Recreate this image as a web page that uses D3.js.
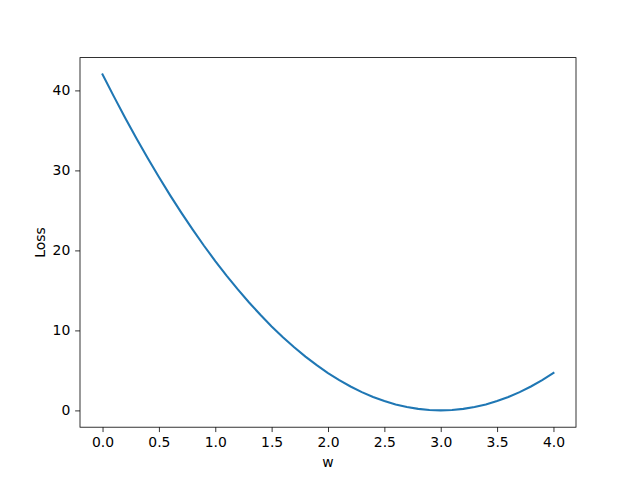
<!DOCTYPE html>
<html>
<head>
<meta charset="utf-8">
<script src="https://cdn.jsdelivr.net/npm/d3@7"></script>
<style>
  body { margin: 0; background: #fff; }
  svg text { font-family: "DejaVu Sans", sans-serif; }
</style>
</head>
<body>
<svg id="chart" width="640" height="480"></svg>
<script>
// data
var wValues = [0.0, 0.1, 0.2, 0.3, 0.4, 0.5, 0.6, 0.7, 0.8, 0.9,
               1.0, 1.1, 1.2, 1.3, 1.4, 1.5, 1.6, 1.7, 1.8, 1.9,
               2.0, 2.1, 2.2, 2.3, 2.4, 2.5, 2.6, 2.7, 2.8, 2.9,
               3.0, 3.1, 3.2, 3.3, 3.4, 3.5, 3.6, 3.7, 3.8, 3.9, 4.0];
var lossValues = [42.00, 39.25, 36.59, 34.02, 31.55, 29.17, 26.88, 24.69, 22.59, 20.58,
                  18.67, 16.85, 15.12, 13.49, 11.95, 10.50, 9.15, 7.89, 6.72, 5.65,
                  4.67, 3.78, 2.99, 2.29, 1.68, 1.17, 0.75, 0.42, 0.19, 0.05,
                  0.00, 0.05, 0.19, 0.42, 0.75, 1.17, 1.68, 2.29, 2.99, 3.78, 4.67];
var xTicks = [0.0, 0.5, 1.0, 1.5, 2.0, 2.5, 3.0, 3.5, 4.0];
var yTicks = [0, 10, 20, 30, 40];

// ====================
// LAYOUT
// ====================
var plotLeft = 80, plotRight = 576, plotTop = 57.6, plotBottom = 427.2;
var svg = d3.select("#chart");

var points = wValues.map(function (w, i) { return {w: w, loss: lossValues[i]}; });

var xMin = d3.min(wValues), xMax = d3.max(wValues);
var yMin = d3.min(lossValues), yMax = d3.max(lossValues);
var xPad = (xMax - xMin) * 0.05, yPad = (yMax - yMin) * 0.05;

var x = d3.scaleLinear().domain([xMin - xPad, xMax + xPad]).range([plotLeft, plotRight]);
var y = d3.scaleLinear().domain([yMin - yPad, yMax + yPad]).range([plotBottom, plotTop]);

// ====================
// AXES
// ====================
var xAxis = svg.append("g")
    .attr("transform", "translate(0," + plotBottom + ")")
    .call(d3.axisBottom(x).tickValues(xTicks).tickFormat(d3.format(".1f"))
        .tickSize(4.86).tickPadding(4.86));

var yAxis = svg.append("g")
    .attr("transform", "translate(" + plotLeft + ",0)")
    .call(d3.axisLeft(y).tickValues(yTicks).tickFormat(d3.format("d"))
        .tickSize(4.86).tickPadding(4.86));

[xAxis, yAxis].forEach(function (g) {
    g.select(".domain").remove();
    g.selectAll(".tick line").attr("stroke", "#000").attr("stroke-width", 0.8);
    g.selectAll(".tick text").attr("font-size", "13.9px").attr("fill", "#000");
});

// the curve
var line = d3.line()
    .x(function (d) { return x(d.w); })
    .y(function (d) { return y(d.loss); });

svg.append("path")
    .datum(points)
    .attr("fill", "none")
    .attr("stroke", "#1f77b4")
    .attr("stroke-width", 2.08)
    .attr("stroke-linecap", "square")
    .attr("d", line);

// frame
svg.append("rect")
    .attr("x", plotLeft).attr("y", plotTop)
    .attr("width", plotRight - plotLeft).attr("height", plotBottom - plotTop)
    .attr("fill", "none").attr("stroke", "#000").attr("stroke-width", 0.8);

// axis labels
svg.append("text")
    .attr("x", (plotLeft + plotRight) / 2).attr("y", 467)
    .attr("text-anchor", "middle").attr("font-size", "13.9px")
    .text("w");

svg.append("text")
    .attr("transform", "translate(45," + ((plotTop + plotBottom) / 2) + ") rotate(-90)")
    .attr("text-anchor", "middle").attr("font-size", "13.9px")
    .text("Loss");
</script>
</body>
</html>
